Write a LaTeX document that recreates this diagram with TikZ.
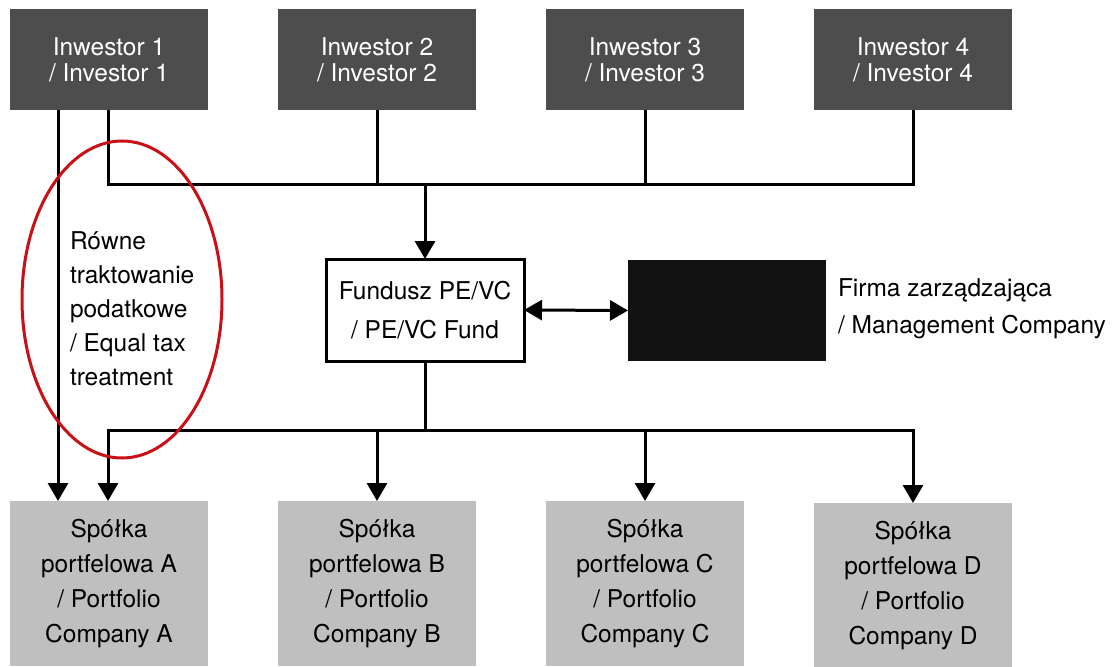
\documentclass[tikz,border=0pt]{standalone}
\usepackage{fontspec}
\setmainfont{TeX Gyre Heros}
\usetikzlibrary{arrows.meta,shapes.geometric}
\definecolor{invgray}{RGB}{77,77,77}
\definecolor{portgray}{RGB}{191,191,191}
\definecolor{mgmtblack}{RGB}{17,17,17}
\definecolor{ellred}{RGB}{200,16,22}
\tikzset{
  invbox/.style={rectangle, fill=invgray, text=white, minimum width=198pt, minimum height=101pt,
    inner sep=0pt, outer sep=0pt, align=center, font=\fontsize{24.5}{26}\selectfont},
  portbox/.style={rectangle, fill=portgray, text=black, minimum width=198pt, minimum height=165pt,
    inner sep=0pt, outer sep=0pt, align=center, font=\fontsize{24.5}{35}\selectfont},
  fundbox/.style={rectangle, draw=black, fill=white, line width=3pt, minimum width=198pt, minimum height=102pt,
    inner sep=0pt, outer sep=0pt, align=center, font=\fontsize{24.5}{39}\selectfont},
  mgmtbox/.style={rectangle, fill=mgmtblack, minimum width=198pt, minimum height=101pt, inner sep=0pt, outer sep=0pt},
  lbl/.style={inner sep=0pt, outer sep=0pt, align=left, text=black},
  conn/.style={draw=black, line width=3pt},
  arr/.style={conn, -{Triangle[width=20pt,length=18pt]}},
  arrtwo/.style={conn, {Triangle[width=20pt,length=18pt]}-{Triangle[width=20pt,length=18pt]}},
  ellring/.style={draw=ellred, line width=3pt, ellipse, inner sep=0pt},
}
\begin{document}
\begin{tikzpicture}[x=1pt,y=-1pt]
\useasboundingbox (0,0) rectangle (1115,666);
% investors
\node[invbox] (inv1) at (109,59.5) {Inwestor 1\\/ Investor 1};
\node[invbox] (inv2) at (377,59.5) {Inwestor 2\\/ Investor 2};
\node[invbox] (inv3) at (645,59.5) {Inwestor 3\\/ Investor 3};
\node[invbox] (inv4) at (913,59.5) {Inwestor 4\\/ Investor 4};
% fund and management
\node[fundbox] (fund) at (425,310) {Fundusz PE/VC\\/ PE/VC Fund};
\node[mgmtbox] (mgmt) at (727,310.5) {};
\node[lbl, anchor=west, font=\fontsize{24.5}{37}\selectfont] (mgmtlbl) at (838,308.5) {Firma zarządzająca\\/ Management Company};
% portfolio companies
\node[portbox] (pA) at (109,583.5) {Spółka\\portfelowa A\\/ Portfolio\\Company A};
\node[portbox] (pB) at (377,583.5) {Spółka\\portfelowa B\\/ Portfolio\\Company B};
\node[portbox] (pC) at (645,583.5) {Spółka\\portfelowa C\\/ Portfolio\\Company C};
\node[portbox] (pD) at (913,585.5) {Spółka\\portfelowa D\\/ Portfolio\\Company D};
% helper coordinates
\coordinate (xa) at (58,0);
\coordinate (xb) at (108,0);
\coordinate (busT) at (425,184);
\coordinate (busB) at (425,430);
% top bus
\draw[conn] (inv1.south -| xb) |- (busT) -| (inv4.south);
\draw[conn] (inv2.south) -- (inv2.south |- busT);
\draw[conn] (inv3.south) -- (inv3.south |- busT);
\draw[arr] (busT) -- (fund.north);
% direct line investor 1 -> portfolio A
\draw[arr] (inv1.south -| xa) -- (pA.north -| xa);
% fund <-> management
\draw[arrtwo] (fund.east) -- (mgmt.west);
% bottom bus
\draw[conn] (fund.south) -- (busB);
\draw[arr] (busB) -| (pA.north -| xb);
\draw[arr] (busB) -| (pD.north);
\draw[arr] (pB.north |- busB) -- (pB.north);
\draw[arr] (pC.north |- busB) -- (pC.north);
% equal tax treatment
\node[ellring, minimum width=200pt, minimum height=317pt] (ell) at (122,299.5) {};
\node[lbl, anchor=west, font=\fontsize{24.5}{34}\selectfont] (eqlbl) at (70,309) {Równe\\traktowanie\\podatkowe\\/ Equal tax\\treatment};
\end{tikzpicture}
\end{document}
